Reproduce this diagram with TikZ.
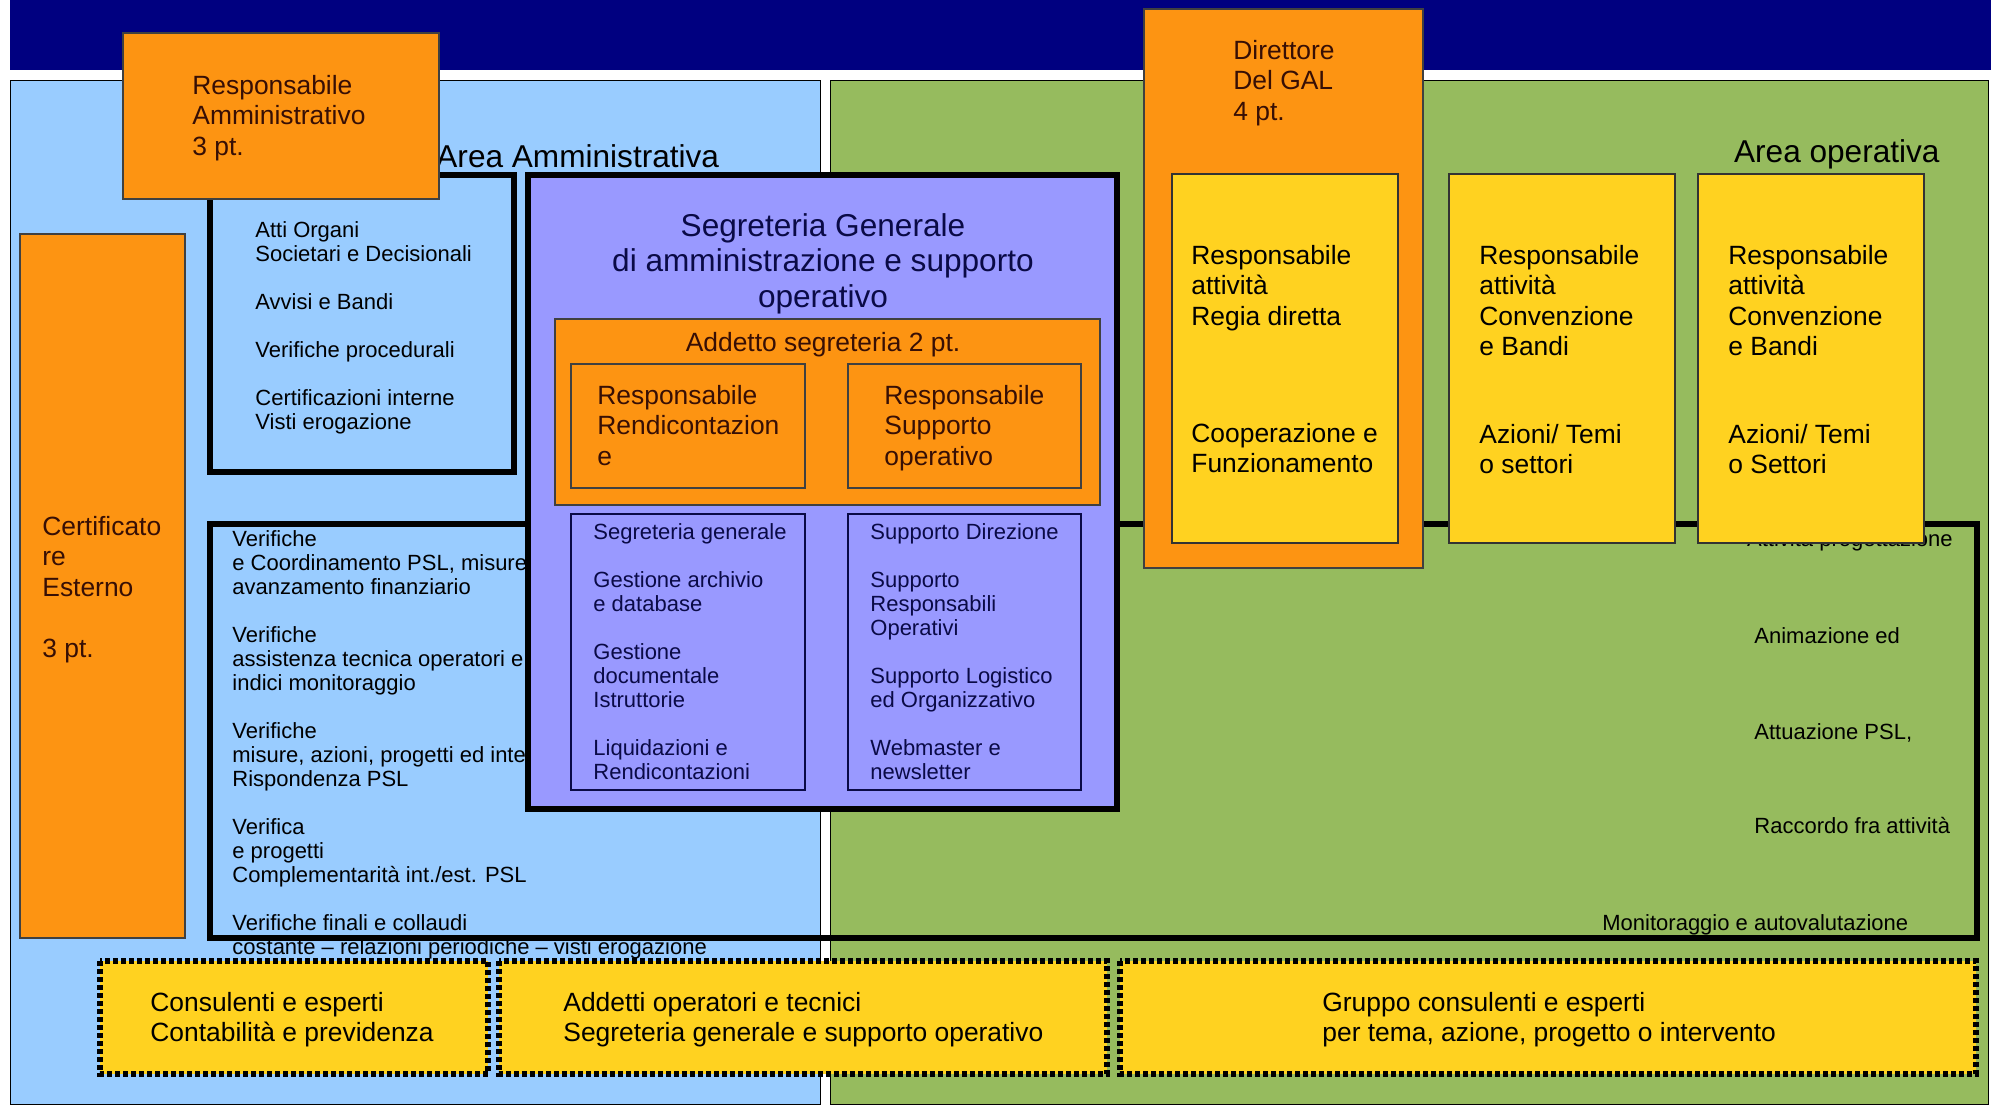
\documentclass[tikz,border=0pt]{standalone}
\usepackage{fontspec}
\setmainfont{Liberation Sans}
\definecolor{bandnavy}{RGB}{0,0,128}
\definecolor{areablue}{RGB}{153,204,255}
\definecolor{areagreen}{RGB}{150,187,94}
\definecolor{boxorange}{RGB}{253,148,18}
\definecolor{boxyellow}{RGB}{255,210,32}
\definecolor{lilac}{RGB}{153,153,255}
\definecolor{inkbrown}{RGB}{55,15,5}
\definecolor{inknavy}{RGB}{10,10,70}

\tikzset{
  areabox/.style={draw=black, line width=0.5pt},
  orangebox/.style={fill=boxorange, draw=black!75, line width=0.6pt},
  yellowbox/.style={fill=boxyellow, draw=black!80, line width=0.6pt},
  heavybox/.style={draw=black, line width=2.7pt},
  listbox/.style={fill=lilac, draw=inknavy, line width=0.8pt},
  dashbox/.style={fill=boxyellow, draw=black, line width=2.6pt, dash pattern=on 2.4pt off 1.6pt},
  bigtxt/.style={anchor=north west, align=left, inner sep=0pt, font=\fontsize{13.2}{15.2}\selectfont},
  listtxt/.style={anchor=north west, align=left, inner sep=0pt, font=\fontsize{11}{12}\selectfont},
  areatxt/.style={inner sep=0pt, font=\fontsize{15.8}{17}\selectfont},
}

\begin{document}
\begin{tikzpicture}[x=0.5pt, y=-0.5pt]
    \useasboundingbox[fill=white] (0,0) rectangle (1991,1107);

    % Fascia superiore
    \fill[bandnavy] (10,0) rectangle (1991,70);

    % Aree
    \draw[areabox, fill=areablue] (10,81) rectangle (820,1104);
    \draw[areabox, fill=areagreen] (830,81) rectangle (1988,1104);
    \node[areatxt, anchor=north west] (areaamm) at (436,144) {Area Amministrativa};
    \node[areatxt, anchor=north east] (areaop) at (1940,139) {Area operativa};

    % Atti organi
    \draw[heavybox, fill=areablue] (210,175) rectangle (514,472);
    \node[listtxt] (atti) at (255,221) {Atti Organi\\Societari e Decisionali\\[12pt]Avvisi e Bandi\\[12pt]Verifiche procedurali\\[12pt]Certificazioni interne\\Visti erogazione};

    % Responsabile amministrativo
    \draw[orangebox] (123,33) rectangle (439,199);
    \node[bigtxt, text=inkbrown] (respamm) at (192,75) {Responsabile\\Amministrativo\\3 pt.};

    % Certificatore
    \draw[orangebox] (20,234) rectangle (185,938);
    \node[bigtxt, text=inkbrown] (certif) at (42,516) {Certificato\\re\\Esterno\\[15.2pt]3 pt.};

    % Verifiche e attivita
    \draw[heavybox] (210,524) rectangle (1977,938);
    \node[listtxt] (verifiche) at (232,530) {Verifiche\\e Coordinamento PSL, misure\\avanzamento finanziario\\[12pt]Verifiche\\assistenza tecnica operatori e\\indici monitoraggio\\[12pt]Verifiche\\misure, azioni, progetti ed interventi\\Rispondenza PSL\\[12pt]Verifica\\e progetti\\Complementarità int./est. PSL\\[12pt]Verifiche finali e collaudi\\costante – relazioni periodiche – visti erogazione};
    \node[listtxt, anchor=north east] (progett) at (1953,530) {Attività progettazione};
    \node[listtxt] (animaz) at (1754,627) {Animazione ed};
    \node[listtxt] (attuaz) at (1754,723) {Attuazione PSL,};
    \node[listtxt] (raccordo) at (1754,817) {Raccordo fra attività};
    \node[listtxt] (monitor) at (1602,914) {Monitoraggio e autovalutazione};

    % Segreteria generale
    \draw[heavybox, fill=lilac] (528,175) rectangle (1117,809);
    \node[anchor=north, align=center, inner sep=0pt, font=\fontsize{15.8}{17.8}\selectfont, text=inknavy] (segtitle) at (823,213) {Segreteria Generale\\di amministrazione e supporto\\operativo};
    \draw[orangebox] (555,319) rectangle (1100,505);
    \node[bigtxt, anchor=north, text=inkbrown] (addetto) at (823,332) {Addetto segreteria 2 pt.};
    \draw[orangebox] (571,364) rectangle (805,488);
    \node[bigtxt, text=inkbrown] (resprend) at (597,385) {Responsabile\\Rendicontazion\\e};
    \draw[orangebox] (848,364) rectangle (1081,488);
    \node[bigtxt, text=inkbrown] (respsupp) at (884,385) {Responsabile\\Supporto\\operativo};
    \draw[listbox] (571,514) rectangle (805,790);
    \node[listtxt, text=inknavy] (seglist) at (593,523) {Segreteria generale\\[12pt]Gestione archivio\\e database\\[12pt]Gestione\\documentale\\Istruttorie\\[12pt]Liquidazioni e\\Rendicontazioni};
    \draw[listbox] (848,514) rectangle (1081,790);
    \node[listtxt, text=inknavy] (supplist) at (870,523) {Supporto Direzione\\[12pt]Supporto\\Responsabili\\Operativi\\[12pt]Supporto Logistico\\ed Organizzativo\\[12pt]Webmaster e\\newsletter};

    % Direttore
    \draw[orangebox] (1144,9) rectangle (1423,568);
    \node[bigtxt, text=inkbrown] (direttore) at (1233,40) {Direttore\\Del GAL\\4 pt.};

    % Responsabili attivita
    \draw[yellowbox] (1172,174) rectangle (1398,543);
    \node[bigtxt] (regia) at (1191,245) {Responsabile\\attività\\Regia diretta\\[43.2pt]Cooperazione e\\Funzionamento};
    \foreach \x/\nome/\s in {1449/convA/settori, 1698/convB/Settori} {
        \draw[yellowbox] (\x,174) rectangle ++(226,369);
        \node[bigtxt] (\nome) at ({\x+30},245) {Responsabile\\attività\\Convenzione\\e Bandi\\[28.6pt]Azioni/ Temi\\o \s};
    }

    % Consulenti e addetti
    \draw[dashbox] (100,961) rectangle (488,1074);
    \node[bigtxt] (consulenti) at (150,992) {Consulenti e esperti\\Contabilità e previdenza};
    \draw[dashbox] (499,961) rectangle (1107,1074);
    \node[bigtxt] (addetti) at (563,992) {Addetti operatori e tecnici\\Segreteria generale e supporto operativo};
    \draw[dashbox] (1120,961) rectangle (1976,1074);
    \node[bigtxt] (gruppo) at (1322,992) {Gruppo consulenti e esperti\\per tema, azione, progetto o intervento};
\end{tikzpicture}
\end{document}
